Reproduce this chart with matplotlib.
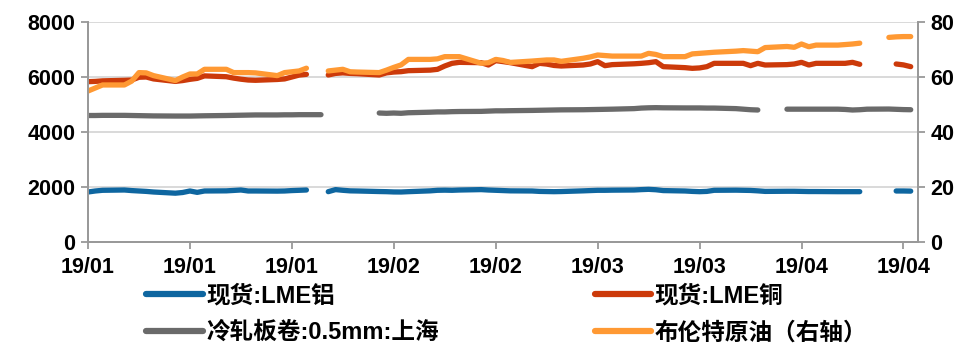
import numpy as np
import pandas as pd
import matplotlib
matplotlib.use("Agg")
import matplotlib.pyplot as plt
import matplotlib.dates as mdates

plt.rcParams['font.family'] = ['Liberation Sans', 'Noto Sans CJK SC', 'DejaVu Sans']

nan = np.nan
dates = pd.to_datetime([
    "2019-01-02", "2019-01-03", "2019-01-04", "2019-01-07", "2019-01-08", "2019-01-09", "2019-01-10", "2019-01-11",
    "2019-01-14", "2019-01-15", "2019-01-16", "2019-01-17", "2019-01-18", "2019-01-21", "2019-01-22", "2019-01-23",
    "2019-01-24", "2019-01-25", "2019-01-28", "2019-01-29", "2019-01-30", "2019-01-31", "2019-02-01", "2019-02-02",
    "2019-02-03", "2019-02-04", "2019-02-05", "2019-02-06", "2019-02-07", "2019-02-08", "2019-02-11", "2019-02-12",
    "2019-02-13", "2019-02-14", "2019-02-15", "2019-02-18", "2019-02-19", "2019-02-20", "2019-02-21", "2019-02-22",
    "2019-02-25", "2019-02-26", "2019-02-27", "2019-02-28", "2019-03-01", "2019-03-04", "2019-03-05", "2019-03-06",
    "2019-03-07", "2019-03-08", "2019-03-11", "2019-03-12", "2019-03-13", "2019-03-14", "2019-03-15", "2019-03-18",
    "2019-03-19", "2019-03-20", "2019-03-21", "2019-03-22", "2019-03-25", "2019-03-26", "2019-03-27", "2019-03-28",
    "2019-03-29", "2019-04-01", "2019-04-02", "2019-04-03", "2019-04-04", "2019-04-05", "2019-04-08", "2019-04-09",
    "2019-04-10", "2019-04-11", "2019-04-12", "2019-04-15", "2019-04-16", "2019-04-17", "2019-04-18", "2019-04-19",
    "2019-04-22", "2019-04-23", "2019-04-24", "2019-04-25",
])

# 现货:LME铝
lme_al = [
    1818, 1855, 1880, 1891, 1870, 1855, 1840, 1818,
    1775, 1800, 1855, 1805, 1855, 1860, 1875, 1891,
    1855, 1855, 1850, 1855, 1870, 1880, 1891, nan,
    nan, 1830, 1905, 1880, 1860, 1855, 1835, 1830,
    1820, 1818, 1830, 1860, 1880, 1885, 1880, 1890,
    1905, 1890, 1880, 1870, 1860, 1855, 1840, 1835,
    1830, 1835, 1860, 1870, 1880, 1880, 1885, 1891,
    1905, 1915, 1900, 1870, 1855, 1840, 1830, 1840,
    1880, 1885, 1880, 1875, 1860, 1840, 1845, 1845,
    1840, 1835, 1835, 1830, 1830, 1830, 1830, nan,
    nan, 1855, 1855, 1850,
]

# 现货:LME铜
lme_cu = [
    5830, 5840, 5860, 5880, 5890, 5990, 6000, 5930,
    5840, 5870, 5915, 5950, 6040, 6010, 5960, 5920,
    5890, 5880, 5910, 5930, 6000, 6070, 6097, nan,
    nan, 6073, 6130, 6150, 6130, 6120, 6073, 6150,
    6180, 6194, 6230, 6250, 6279, 6400, 6497, 6533,
    6521, 6436, 6594, 6560, 6521, 6376, 6497, 6470,
    6420, 6400, 6436, 6473, 6558, 6412, 6450, 6480,
    6497, 6520, 6558, 6376, 6340, 6315, 6330, 6376,
    6497, 6497, 6497, 6412, 6497, 6436, 6450, 6473,
    6533, 6436, 6497, 6497, 6497, 6533, 6461, nan,
    nan, 6473, 6440, 6376,
]

# 冷轧板卷:0.5mm:上海
cold_rolled = [
    4600, 4600, 4605, 4605, 4600, 4595, 4590, 4585,
    4580, 4580, 4580, 4585, 4590, 4600, 4605, 4610,
    4615, 4620, 4620, 4625, 4625, 4630, 4630, 4630,
    4630, nan, nan, nan, nan, nan, 4690, 4680,
    4690, 4680, 4700, 4720, 4730, 4730, 4740, 4745,
    4750, 4760, 4770, 4770, 4775, 4785, 4790, 4795,
    4800, 4805, 4810, 4815, 4820, 4825, 4830, 4850,
    4870, 4880, 4885, 4880, 4875, 4875, 4875, 4870,
    4870, 4850, 4830, 4810, 4800, nan, 4830, 4830,
    4830, 4830, 4830, 4830, 4820, 4800, 4810, 4830,
    4835, 4825, 4815, 4810,
]

# 布伦特原油(右轴)
brent = [
    54.9, 56.0, 57.1, 57.1, 58.5, 61.6, 61.5, 60.5,
    58.7, 60.0, 61.1, 61.1, 62.8, 62.8, 61.6, 61.6,
    61.6, 61.5, 60.5, 61.6, 61.9, 62.2, 63.2, nan,
    nan, 62.2, 62.5, 62.8, 61.9, 61.8, 61.6, 62.5,
    63.5, 64.4, 66.4, 66.4, 66.6, 67.4, 67.4, 67.4,
    65.0, 65.2, 66.4, 66.0, 65.3, 65.8, 66.0, 66.2,
    66.2, 65.7, 66.8, 67.3, 68.0, 67.8, 67.6, 67.6,
    67.6, 68.6, 68.2, 67.4, 67.4, 68.4, 68.6, 68.8,
    69.0, 69.4, 69.6, 69.4, 69.2, 70.7, 71.1, 70.8,
    72.0, 71.0, 71.6, 71.6, 71.8, 72.0, 72.3, nan,
    74.4, 74.6, 74.7, 74.7,
]

labels = ["现货:LME铝", "现货:LME铜", "冷轧板卷:0.5mm:上海", "布伦特原油（右轴）"]
colors = ["#0E66A0", "#CC3A0A", "#6A6A6A", "#FF9933"]

left_ticks = [0, 2000, 4000, 6000, 8000]
right_ticks = [0, 20, 40, 60, 80]
tick_dates = pd.date_range("2019-01-02", periods=9, freq="14D")

fig = plt.figure(figsize=(9.72, 3.51), dpi=100)
ax = fig.add_axes([88/972, 1-242/351, (918-88)/972, 220/351])
ax2 = ax.twinx()

lw = 3.8
h = []
for vals, c, lab in zip([lme_al, lme_cu, cold_rolled], colors[:3], labels[:3]):
    ln, = ax.plot(dates, vals, color=c, lw=lw, solid_capstyle='round', solid_joinstyle='round', label=lab)
    h.append(ln)
ln, = ax2.plot(dates, brent, color=colors[3], lw=lw, solid_capstyle='round', solid_joinstyle='round', label=labels[3])
h.append(ln)

ax.set_ylim(0, 8000)
ax2.set_ylim(0, 80)
ax.set_yticks(left_ticks)
ax2.set_yticks(right_ticks)
ax.set_xlim(pd.Timestamp("2019-01-02"), pd.Timestamp("2019-04-26"))
ax.set_xticks(tick_dates)
ax.xaxis.set_major_formatter(mdates.DateFormatter("%y/%m"))

ax.grid(axis='y', color='#D9D9D9', lw=1.4)
ax.set_axisbelow(True)
spc = '#999999'
for a in (ax, ax2):
    a.spines['top'].set_visible(False)
    for s in ('left', 'right', 'bottom'):
        a.spines[s].set_color(spc)
        a.spines[s].set_linewidth(1.3)
ax.tick_params(axis='both', direction='out', length=5, width=1.3, color=spc, labelsize=15.5, pad=4)
ax.tick_params(axis='x', pad=6)
ax2.tick_params(axis='y', direction='out', length=5, width=1.3, color=spc, labelsize=15.5, pad=4)
for t in ax.get_xticklabels() + ax.get_yticklabels() + ax2.get_yticklabels():
    t.set_fontweight('bold')

order = [0, 2, 1, 3]
leg = fig.legend([h[i] for i in order], [labels[i] for i in order], loc='upper left',
                 bbox_to_anchor=(146/972, 1-284/351), ncol=2,
                 frameon=False, handlelength=2.4, handletextpad=0.15, columnspacing=6.6,
                 labelspacing=0.6, borderaxespad=0, borderpad=0,
                 prop={'family': ['Liberation Sans', 'Noto Sans CJK SC'], 'weight': 'bold', 'size': 17})
for l in leg.get_lines():
    l.set_linewidth(4.5)
    l.set_solid_capstyle('round')

fig.savefig("out.png", dpi=100)
